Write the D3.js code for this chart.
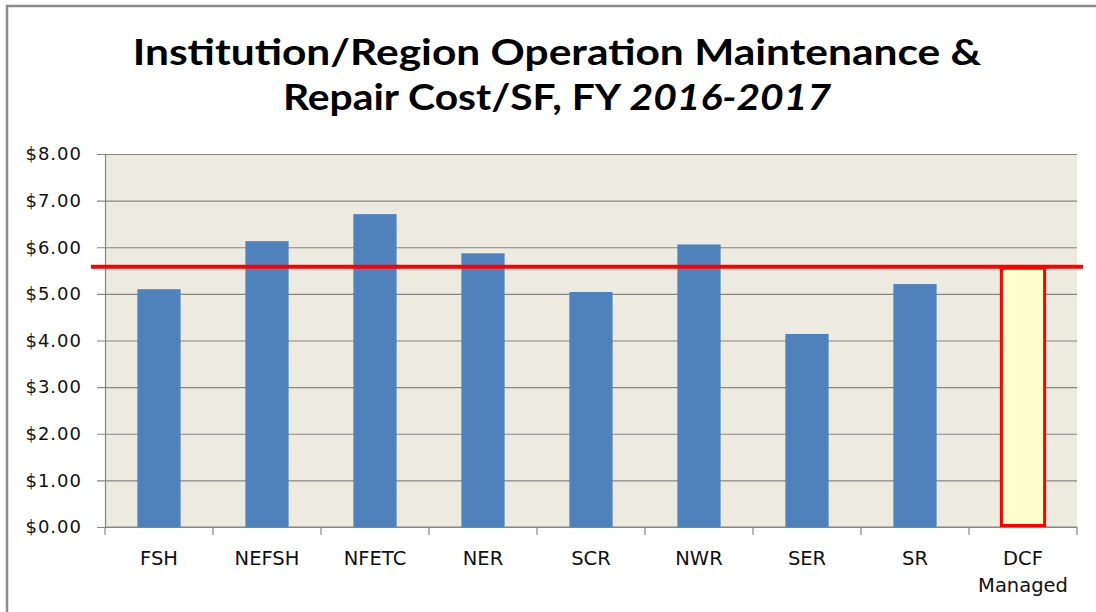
<!DOCTYPE html>
<html>
<head>
<meta charset="utf-8">
<script src="https://cdn.jsdelivr.net/npm/d3@7"></script>
<style>
  html, body { margin: 0; padding: 0; background: #ffffff; }
  svg { display: block; }
</style>
</head>
<body>
<svg id="chart" width="1096" height="612"></svg>
<script>
// ---- data ----
const categories = ["FSH", "NEFSH", "NFETC", "NER", "SCR", "NWR", "SER", "SR", "DCF Managed"];
const costPerSF = [5.10, 6.13, 6.71, 5.87, 5.04, 6.06, 4.14, 5.21, 5.55];
const averageCost = 5.58;
const yTicks = [0, 1, 2, 3, 4, 5, 6, 7, 8];
const titleLine1 = "Institution/Region Operation Maintenance &";
const titleLine2a = "Repair Cost/SF, FY ";
const titleLine2b = "2016-2017";

// ---- layout ----
const W = 1096, H = 612;
const plot = { left: 105, right: 1077, top: 154, bottom: 527 };
const svg = d3.select("#chart");

svg.append("rect").attr("width", W).attr("height", H).attr("fill", "#ffffff");

// outer frame (left and top visible)
svg.append("path")
  .attr("d", `M7,${H} L7,6 L${W},6`)
  .attr("fill", "none").attr("stroke", "#8c8c8c").attr("stroke-width", 2.5);

const x = d3.scaleBand().domain(categories).range([plot.left, plot.right]).padding(0);
const y = d3.scaleLinear().domain([0, 8]).range([plot.bottom, plot.top]);

// plot background
svg.append("rect")
  .attr("x", plot.left).attr("y", plot.top)
  .attr("width", plot.right - plot.left).attr("height", plot.bottom - plot.top)
  .attr("fill", "#edeadf");

// gridlines + y axis
const yAxis = d3.axisLeft(y).tickValues(yTicks)
  .tickSize(-(plot.right - plot.left)).tickPadding(23)
  .tickFormat(d => "$" + d3.format(".2f")(d));
const gy = svg.append("g").attr("transform", `translate(${plot.left},0)`).call(yAxis);
gy.select(".domain").attr("stroke", "#868686").attr("stroke-width", 1.2);
gy.selectAll(".tick line").attr("stroke", "#868686").attr("stroke-width", 1.2)
  .attr("x1", -8);
gy.selectAll(".tick text")
  .attr("font-family", "DejaVu Sans").attr("font-size", 18)
  .attr("letter-spacing", 1).attr("fill", "#111");

// x axis
const gx = svg.append("g").attr("transform", `translate(0,${plot.bottom})`);
gx.append("line").attr("x1", plot.left).attr("x2", plot.right)
  .attr("stroke", "#868686").attr("stroke-width", 1.2);
const bounds = categories.map(c => x(c)).concat([plot.right]);
gx.selectAll("line.tk").data(bounds).join("line").attr("class", "tk")
  .attr("x1", d => d).attr("x2", d => d).attr("y1", 0).attr("y2", 8)
  .attr("stroke", "#868686").attr("stroke-width", 1.2);
const xl = gx.selectAll("text.xl").data(categories).join("text").attr("class", "xl")
  .attr("x", d => x(d) + x.bandwidth() / 2)
  .attr("y", 38)
  .attr("text-anchor", "middle")
  .attr("font-family", "DejaVu Sans").attr("font-size", 19.5).attr("fill", "#111");
xl.each(function(d) {
  const words = d.split(" ");
  const t = d3.select(this);
  words.forEach((w, i) => {
    t.append("tspan").attr("x", x(d) + x.bandwidth() / 2).attr("dy", i === 0 ? 0 : 27).text(w);
  });
});

// bars
const barW = x.bandwidth() * 0.4;
const last = categories.length - 1;
svg.append("g").selectAll("rect").data(categories).join("rect")
  .attr("x", d => x(d) + (x.bandwidth() - barW) / 2)
  .attr("width", barW)
  .attr("y", (d, i) => y(costPerSF[i]))
  .attr("height", (d, i) => y(0) - y(costPerSF[i]) - (i === last ? 1.5 : 0))
  .attr("fill", (d, i) => i === last ? "#ffffcc" : "#4f81bd")
  .attr("stroke", (d, i) => i === last ? "#ff0000" : "none")
  .attr("stroke-width", 3);

// average line
svg.append("line")
  .attr("x1", 91).attr("x2", 1083)
  .attr("y1", y(averageCost)).attr("y2", y(averageCost))
  .attr("stroke", "#ff0000").attr("stroke-width", 4);

// title
function fitText(sel, targetW, cx) {
  const bb = sel.node().getBBox();
  const s = targetW / bb.width;
  sel.attr("transform", `translate(${cx},0) scale(${s},1) translate(${-cx},0)`);
}
const t1 = svg.append("text").attr("x", 557).attr("y", 65).attr("text-anchor", "middle")
  .attr("font-family", "Lato").attr("font-weight", "bold").attr("font-size", 37)
  .attr("fill", "#000").text(titleLine1);
fitText(t1, 849, 557);
const t2 = svg.append("text").attr("x", 557).attr("y", 110).attr("text-anchor", "middle")
  .attr("font-family", "Lato").attr("font-weight", "bold").attr("font-size", 37)
  .attr("fill", "#000");
t2.append("tspan").text(titleLine2a);
t2.append("tspan").attr("font-style", "italic").text(titleLine2b);
fitText(t2, 549, 557);
</script>
</body>
</html>
